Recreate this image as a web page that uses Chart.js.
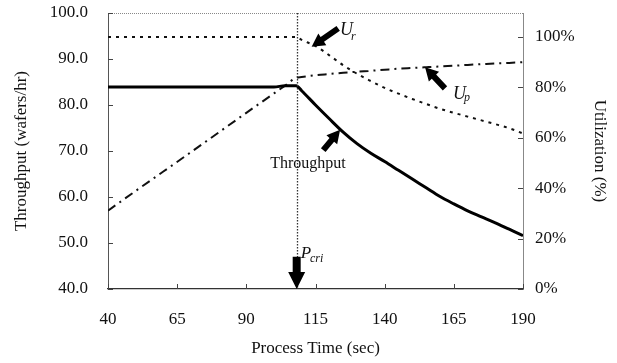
<!DOCTYPE html>
<html>
<head>
<meta charset="utf-8">
<script src="https://cdn.jsdelivr.net/npm/chart.js@4.4.1/dist/chart.umd.min.js"></script>
<style>
  html, body { margin: 0; padding: 0; background: #fff; }
</style>
</head>
<body>
<canvas id="chart" width="617" height="363"></canvas>
<script>
"use strict";

// values
const processTime = [40, 50, 60, 70, 80, 90, 100, 104, 108, 110, 115, 120, 125, 130, 135, 140, 145, 150, 155, 160, 165, 170, 175, 180, 185, 190];
const throughput = [83.9, 83.9, 83.9, 83.9, 83.9, 83.9, 83.9, 84.2, 84.2, 83.1, 80.0, 77.0, 74.1, 71.6, 69.5, 67.7, 65.8, 63.9, 62.0, 60.1, 58.5, 57.0, 55.7, 54.4, 53.0, 51.6];
const utilR = [100, 100, 100, 100, 100, 100, 100, 100, 100, 98.8, 96.4, 92.7, 88.8, 85.4, 82.5, 79.8, 77.5, 75.4, 73.4, 71.5, 69.9, 68.4, 66.9, 65.4, 63.8, 61.7];
const utilP = [31.1, 38.9, 46.6, 54.3, 62.1, 69.9, 77.6, 80.7, 83.8, 84.1, 84.8, 85.3, 85.8, 86.2, 86.6, 87.0, 87.4, 87.7, 88.0, 88.3, 88.6, 88.9, 89.2, 89.5, 89.7, 90.0];

const timeTicks = [40, 65, 90, 115, 140, 165, 190];
const throughputTicks = [40, 50, 60, 70, 80, 90, 100];
const utilTicks = [0, 20, 40, 60, 80, 100];
const pCri = 108.2;

const serif = "'Liberation Serif', 'Times New Roman', serif";
const ink = "#111";

const toPoints = function (ys) {
  return processTime.map(function (t, i) {
    return { x: t, y: ys[i] };
  });
};

const fixTicks = function (list) {
  return function (scale) {
    scale.ticks = list.map(function (v) {
      return { value: v };
    });
  };
};

const fitBox = function (size) {
  return function (scale) {
    if (scale.isHorizontal()) {
      scale.height = size;
    } else {
      scale.width = size;
    }
    scale.paddingTop = 0;
    scale.paddingBottom = 0;
    scale.paddingLeft = 0;
    scale.paddingRight = 0;
  };
};

// arrows and labels, placed in data space
const arrows = [
  { axis: "y1", from: [123.2, 103.4], to: [113.6, 96.1], shaft: 6, head: 14, len: 13 },
  { axis: "y1", from: [161.8, 79.6], to: [154.6, 88.0], shaft: 6, head: 14, len: 13 },
  { axis: "y", from: [117.8, 70.2], to: [123.9, 74.6], shaft: 6, head: 14, len: 13 },
  { axis: "y", from: [pCri, 47.0], to: [pCri, 40.0], shaft: 8, head: 17, len: 17 },
];

const labels = [
  { axis: "y1", at: [123.9, 100.8], text: "U", font: "italic 18px " + serif, align: "left" },
  { axis: "y1", at: [127.8, 98.8], text: "r", font: "italic 12px " + serif, align: "left" },
  { axis: "y1", at: [164.7, 75.4], text: "U", font: "italic 18px " + serif, align: "left" },
  { axis: "y1", at: [168.7, 74.4], text: "p", font: "italic 12px " + serif, align: "left" },
  { axis: "y", at: [112.3, 66.4], text: "Throughput", font: "16px " + serif, align: "center" },
  { axis: "y", at: [109.7, 46.7], text: "P", font: "italic 17px " + serif, align: "left" },
  { axis: "y", at: [113.0, 45.9], text: "cri", font: "italic 12px " + serif, align: "left" },
];

const drawArrow = function (ctx, x1, y1, x2, y2, shaft, head, len) {
  const dx = x2 - x1;
  const dy = y2 - y1;
  const d = Math.sqrt(dx * dx + dy * dy);
  const ux = dx / d;
  const uy = dy / d;
  const nx = -uy;
  const ny = ux;
  const bx = x2 - ux * len;
  const by = y2 - uy * len;
  ctx.beginPath();
  ctx.moveTo(x1 + nx * shaft / 2, y1 + ny * shaft / 2);
  ctx.lineTo(bx + nx * shaft / 2, by + ny * shaft / 2);
  ctx.lineTo(bx + nx * head / 2, by + ny * head / 2);
  ctx.lineTo(x2, y2);
  ctx.lineTo(bx - nx * head / 2, by - ny * head / 2);
  ctx.lineTo(bx - nx * shaft / 2, by - ny * shaft / 2);
  ctx.lineTo(x1 - nx * shaft / 2, y1 - ny * shaft / 2);
  ctx.closePath();
  ctx.fill();
};

const decorations = {
  id: "decorations",
  afterDatasetsDraw: function (chart) {
    const ctx = chart.ctx;
    const area = chart.chartArea;
    const sx = chart.scales.x;
    const sy = chart.scales.y;
    const sy1 = chart.scales.y1;
    ctx.save();

    // top border (dotted)
    ctx.strokeStyle = "#888";
    ctx.lineWidth = 1;
    ctx.setLineDash([1, 1]);
    ctx.beginPath();
    ctx.moveTo(area.left, area.top + 0.5);
    ctx.lineTo(area.right, area.top + 0.5);
    ctx.stroke();

    // critical process time line
    const px = Math.round(sx.getPixelForValue(pCri)) + 0.5;
    ctx.strokeStyle = "#333";
    ctx.lineWidth = 1.3;
    ctx.setLineDash([1.5, 1.5]);
    ctx.beginPath();
    ctx.moveTo(px, area.top);
    ctx.lineTo(px, area.bottom);
    ctx.stroke();
    ctx.setLineDash([]);

    // inward tick marks
    ctx.strokeStyle = "#444";
    ctx.lineWidth = 1;
    ctx.beginPath();
    timeTicks.forEach(function (v) {
      const x = Math.round(sx.getPixelForValue(v)) + 0.5;
      ctx.moveTo(x, area.bottom);
      ctx.lineTo(x, area.bottom - 5);
    });
    throughputTicks.forEach(function (v) {
      const y = Math.round(sy.getPixelForValue(v)) + 0.5;
      ctx.moveTo(area.left, y);
      ctx.lineTo(area.left + 5, y);
    });
    utilTicks.forEach(function (v) {
      const y = Math.round(sy1.getPixelForValue(v)) + 0.5;
      ctx.moveTo(area.right, y);
      ctx.lineTo(area.right - 5, y);
    });
    ctx.stroke();

    // arrows
    ctx.fillStyle = "#000";
    arrows.forEach(function (a) {
      const ys = chart.scales[a.axis];
      drawArrow(
        ctx,
        sx.getPixelForValue(a.from[0]), ys.getPixelForValue(a.from[1]),
        sx.getPixelForValue(a.to[0]), ys.getPixelForValue(a.to[1]),
        a.shaft, a.head, a.len
      );
    });

    // labels
    ctx.fillStyle = ink;
    ctx.textBaseline = "alphabetic";
    labels.forEach(function (l) {
      const ys = chart.scales[l.axis];
      ctx.font = l.font;
      ctx.textAlign = l.align;
      ctx.fillText(l.text, sx.getPixelForValue(l.at[0]), ys.getPixelForValue(l.at[1]));
    });

    ctx.restore();
  },
};

new Chart(document.getElementById("chart").getContext("2d"), {
  type: "line",
  data: {
    datasets: [
      {
        label: "Throughput",
        data: toPoints(throughput),
        yAxisID: "y",
        borderColor: "#000",
        borderWidth: 3,
        pointRadius: 0,
        cubicInterpolationMode: "monotone",
      },
      {
        label: "Ur",
        data: toPoints(utilR),
        yAxisID: "y1",
        borderColor: "#111",
        borderWidth: 2,
        borderDash: [3, 5],
        pointRadius: 0,
        cubicInterpolationMode: "monotone",
      },
      {
        label: "Up",
        data: toPoints(utilP),
        yAxisID: "y1",
        borderColor: "#111",
        borderWidth: 2,
        borderDash: [9, 5, 2, 5],
        pointRadius: 0,
        cubicInterpolationMode: "monotone",
      },
    ],
  },
  options: {
    responsive: false,
    animation: false,
    layout: { padding: { top: 13, left: 0, right: 0, bottom: 0 } },
    plugins: {
      legend: { display: false },
      tooltip: { enabled: false },
    },
    scales: {
      x: {
        type: "linear",
        min: 40,
        max: 190,
        afterBuildTicks: fixTicks(timeTicks),
        afterFit: fitBox(74),
        grid: { display: false, drawTicks: false },
        border: { display: true, color: "#333", width: 1.3 },
        ticks: {
          padding: 20,
          color: ink,
          font: { family: serif, size: 17 },
          maxRotation: 0,
        },
        title: {
          display: true,
          text: "Process Time (sec)",
          color: ink,
          font: { family: serif, size: 17 },
          padding: { top: 0, bottom: 4 },
        },
      },
      y: {
        position: "left",
        min: 40,
        max: 100,
        afterBuildTicks: fixTicks(throughputTicks),
        afterFit: fitBox(108),
        grid: { display: false, drawTicks: false },
        border: { display: true, color: "#555", width: 1 },
        ticks: {
          padding: 20,
          color: ink,
          font: { family: serif, size: 17 },
          callback: function (v) {
            return v.toFixed(1);
          },
        },
        title: {
          display: true,
          text: "Throughput (wafers/hr)",
          color: ink,
          font: { family: serif, size: 17 },
          padding: { top: 11, bottom: 0 },
        },
      },
      y1: {
        position: "right",
        min: 0,
        max: 109.5,
        afterBuildTicks: fixTicks(utilTicks),
        afterFit: fitBox(94),
        grid: { display: false, drawTicks: false },
        border: { display: true, color: "#888", width: 1 },
        ticks: {
          padding: 12,
          color: ink,
          font: { family: serif, size: 17 },
          callback: function (v) {
            return v + "%";
          },
        },
        title: {
          display: true,
          text: "Utilization (%)",
          color: ink,
          font: { family: serif, size: 17 },
          padding: { top: 7, bottom: 0 },
        },
      },
    },
  },
  plugins: [decorations],
});
</script>
</body>
</html>
